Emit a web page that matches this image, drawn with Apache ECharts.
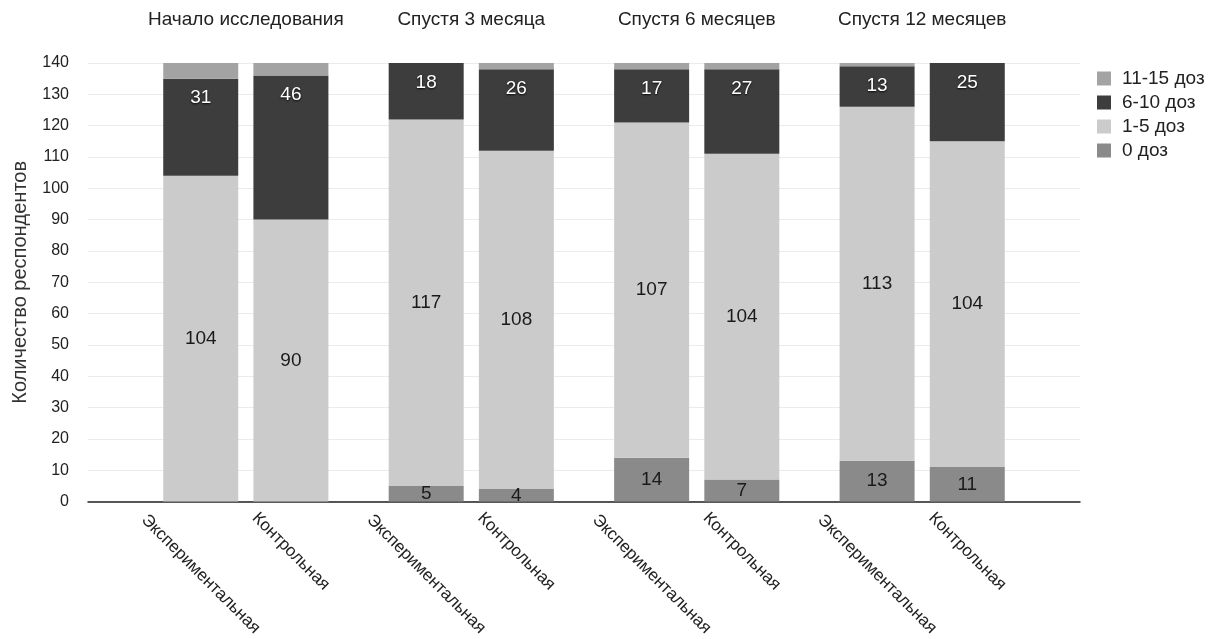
<!DOCTYPE html>
<html>
<head>
<meta charset="utf-8">
<script src="https://cdn.jsdelivr.net/npm/echarts@6/dist/echarts.min.js"></script>
<style>
  html, body { margin: 0; padding: 0; background: #fff; }
  #chart { width: 1216px; height: 639px; }
</style>
</head>
<body>
<div id="chart"></div>
<script>
// группы и столбцы
const groups = ['Начало исследования', 'Спустя 3 месяца', 'Спустя 6 месяцев', 'Спустя 12 месяцев']
const barNames = ['Экспериментальная', 'Контрольная', 'Экспериментальная', 'Контрольная',
  'Экспериментальная', 'Контрольная', 'Экспериментальная', 'Контрольная']
const seriesNames = ['0 доз', '1-5 доз', '6-10 доз', '11-15 доз']

// значения (снизу вверх)
const dose0 = [0, 0, 5, 4, 14, 7, 13, 11]
const dose1to5 = [104, 90, 117, 108, 107, 104, 113, 104]
const dose6to10 = [31, 46, 18, 26, 17, 27, 13, 25]
const dose11to15 = [5, 4, 0, 2, 2, 2, 1, 0]

const yTicks = { min: 0, max: 140, interval: 10 }

// слоты на оси: между группами пустые места
const slotCount = 22
const slotOf = i => 2 + Math.floor(i / 2) * 5 + (i % 2) * 2
const groupSlot = g => 3 + g * 5

const bottomLabels = new Array(slotCount).fill('')
barNames.forEach((n, i) => { bottomLabels[slotOf(i)] = i % 2 === 0 ? '{e|' + n + '}' : '{c|' + n + '}' })
const topLabels = new Array(slotCount).fill('')
groups.forEach((g, i) => { topLabels[groupSlot(i)] = g })
const cats = bottomLabels.map((_, i) => 's' + i)

const spread = arr => {
  const out = new Array(slotCount).fill(null)
  arr.forEach((v, i) => { out[slotOf(i)] = v })
  return out
}

const font = 'Liberation Sans, Arial, sans-serif'
const colors = ['#8a8a8a', '#cbcbcb', '#3d3d3d', '#a3a3a3']

const labelFor = idx => {
  if (idx === 3) return { show: false }
  if (idx === 2) {
    return {
      show: true, position: 'insideTop', distance: 10,
      color: '#fff', fontSize: 19, fontFamily: font,
      textShadowColor: 'rgba(0,0,0,0.9)', textShadowBlur: 2, textShadowOffsetY: 1,
      formatter: p => (p.value ? p.value : '')
    }
  }
  return {
    show: true, position: 'inside', color: '#1a1a1a', fontSize: 19, fontFamily: font,
    formatter: p => (p.value ? p.value : '')
  }
}

const data = [dose0, dose1to5, dose6to10, dose11to15]

const chart = echarts.init(document.getElementById('chart'))
chart.setOption({
  animation: false,
  textStyle: { fontFamily: font },
  grid: { left: 88, right: 136, top: 63, bottom: 136, containLabel: false },
  legend: {
    orient: 'vertical', left: 1092, top: 64,
    data: ['11-15 доз', '6-10 доз', '1-5 доз', '0 доз'],
    itemWidth: 14, itemHeight: 14, itemGap: 5, icon: 'rect',
    textStyle: { fontSize: 19, color: '#222', fontFamily: font, padding: [0, 0, 0, 6] }
  },
  xAxis: [
    {
      type: 'category', data: cats, position: 'bottom',
      axisLine: { lineStyle: { color: '#222', width: 1.5 } },
      axisTick: { show: false },
      axisLabel: {
        interval: 0, rotate: -45, align: 'center', verticalAlign: 'middle', margin: 50,
        formatter: (v, i) => bottomLabels[i],
        rich: {
          e: { fontSize: 17, color: '#222', fontFamily: font, padding: [32, 0, 0, 32] },
          c: { fontSize: 17, color: '#222', fontFamily: font }
        }
      }
    },
    {
      type: 'category', data: cats, position: 'top',
      axisLine: { show: false }, axisTick: { show: false }, splitLine: { show: false },
      axisLabel: {
        interval: 0, margin: 34, fontSize: 19, color: '#222', fontFamily: font,
        formatter: (v, i) => topLabels[i]
      }
    }
  ],
  yAxis: {
    type: 'value', min: yTicks.min, max: yTicks.max, interval: yTicks.interval,
    name: 'Количество респондентов', nameLocation: 'middle', nameGap: 58,
    nameTextStyle: { fontSize: 20, color: '#333', fontFamily: font },
    axisLine: { show: false }, axisTick: { show: false },
    axisLabel: { fontSize: 16, color: '#222', margin: 19, fontFamily: font },
    splitLine: { lineStyle: { color: '#ebebeb' } }
  },
  series: data.map((arr, k) => ({
    name: seriesNames[k],
    type: 'bar', stack: 'total', barWidth: 75,
    itemStyle: { color: colors[k] },
    label: labelFor(k),
    data: spread(arr)
  }))
})
</script>
</body>
</html>
